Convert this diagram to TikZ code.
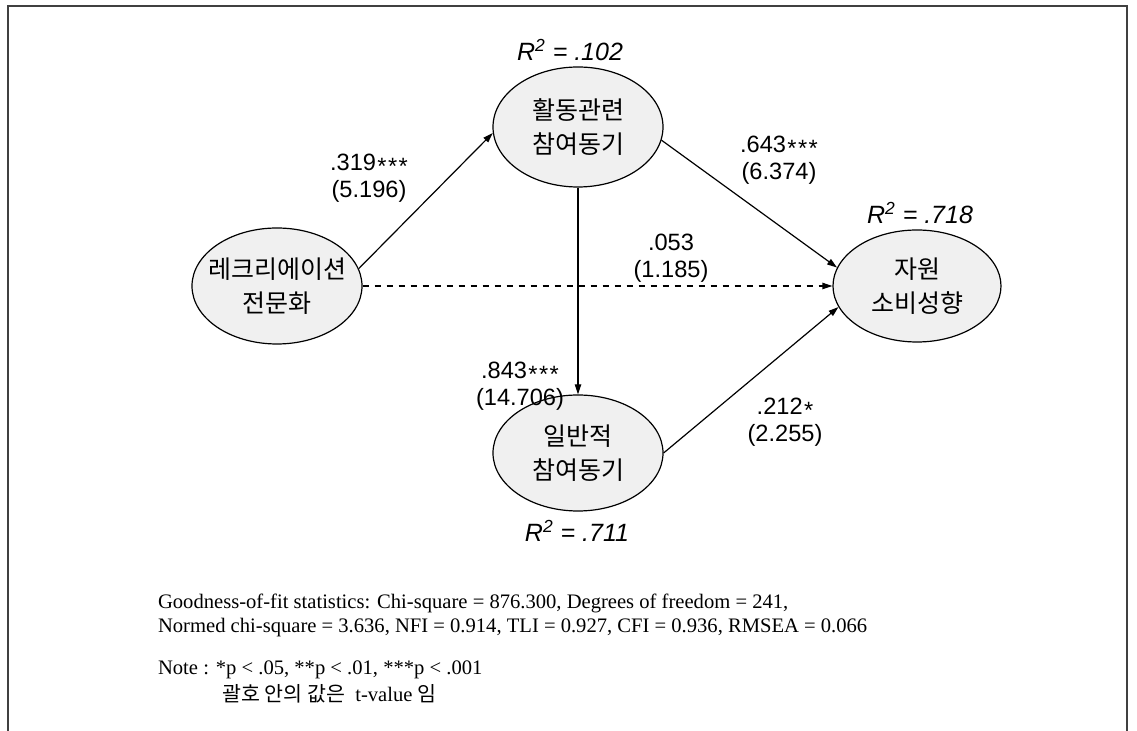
\documentclass[tikz,border=0pt]{standalone}
\usepackage{fontspec}
\setmainfont{Liberation Serif}
\setsansfont{Liberation Sans}
\newfontfamily\kor{Noto Sans CJK KR}
\usetikzlibrary{arrows.meta,shapes.geometric}

% significance star, set at mid height
\newcommand\sigstar{\hspace{0.06em}\raisebox{-0.32ex}[0pt][0pt]{*}}

\begin{document}
\begin{tikzpicture}[x=0.5pt,y=-0.5pt,
  var/.style={ellipse,draw,line width=0.6pt,fill=black!6,inner sep=0pt,
    minimum width=85pt,minimum height=58pt},
  vartext/.style={font=\kor\fontsize{12.5}{17}\selectfont,align=center},
  path/.style={line width=0.6pt,-{Triangle[length=5pt,width=3.2pt]}},
  coef/.style={font=\sffamily\fontsize{11.8}{13.4}\selectfont,align=center,inner sep=1pt},
  rsq/.style={font=\sffamily\itshape\fontsize{12.5}{13}\selectfont},
  fit/.style={font=\fontsize{10.3}{12}\selectfont,align=left,anchor=west}]
  \useasboundingbox (0,0) rectangle (1137,731);

  % open frame
  \draw[line width=0.8pt,black!75] (8,731) -- (8,6) -- (1127,6) -- (1127,731);

  % latent variables
  \node[var,label={[name=specT,vartext]center:레크리에이션\\전문화}] (spec) at (277,286) {};
  \node[var,minimum height=60pt,label={[name=actT,vartext]center:활동관련\\참여동기}] (act) at (578,127) {};
  \node[var,label={[name=genT,vartext]center:일반적\\참여동기}] (gen) at (578,453) {};
  \node[var,minimum width=84pt,minimum height=56pt,
    label={[name=resT,vartext]center:자원\\소비성향}] (res) at (917,286) {};

  % explained variance
  \node[rsq] (actR) at (570,50) {R\textsuperscript{2} = .102};
  \node[rsq] (resR) at (920,213) {R\textsuperscript{2} = .718};
  \node[rsq] (genR) at (577,531) {R\textsuperscript{2} = .711};

  % structural paths
  \draw[path] (spec.12) -- (act.184);
  \draw[path] (act.-9) -- (res.167);
  \draw[path,dashed] (spec.east) -- (res.west);
  \draw[path] (act.south) -- (gen.north);
  \draw[path] (gen.east) -- (res.195);

  % path coefficients (t-values)
  \node[coef] (c1) at (369,178) {.319\sigstar\sigstar\sigstar\\(5.196)};
  \node[coef] (c2) at (779,160) {.643\sigstar\sigstar\sigstar\\(6.374)};
  \node[coef] (c3) at (671,258) {.053\\(1.185)};
  \node[coef] (c4) at (520,386) {.843\sigstar\sigstar\sigstar\\(14.706)};
  \node[coef] (c5) at (785,422) {.212\sigstar\\(2.255)};

  % fit indices and note
  \node[fit] (gof) at (151,615) {Goodness-of-fit statistics: Chi-square = 876.300, Degrees of freedom = 241,\\
    Normed chi-square = 3.636, NFI = 0.914, TLI = 0.927, CFI = 0.936, RMSEA = 0.066};
  \node[fit] (note) at (151,670) {Note : *p < .05, **p < .01, ***p < .001};
  \node[fit] (noteK) at (215,694) {{\kor 괄호 안의 값은}\ \ t-value {\kor 임}};
\end{tikzpicture}
\end{document}
